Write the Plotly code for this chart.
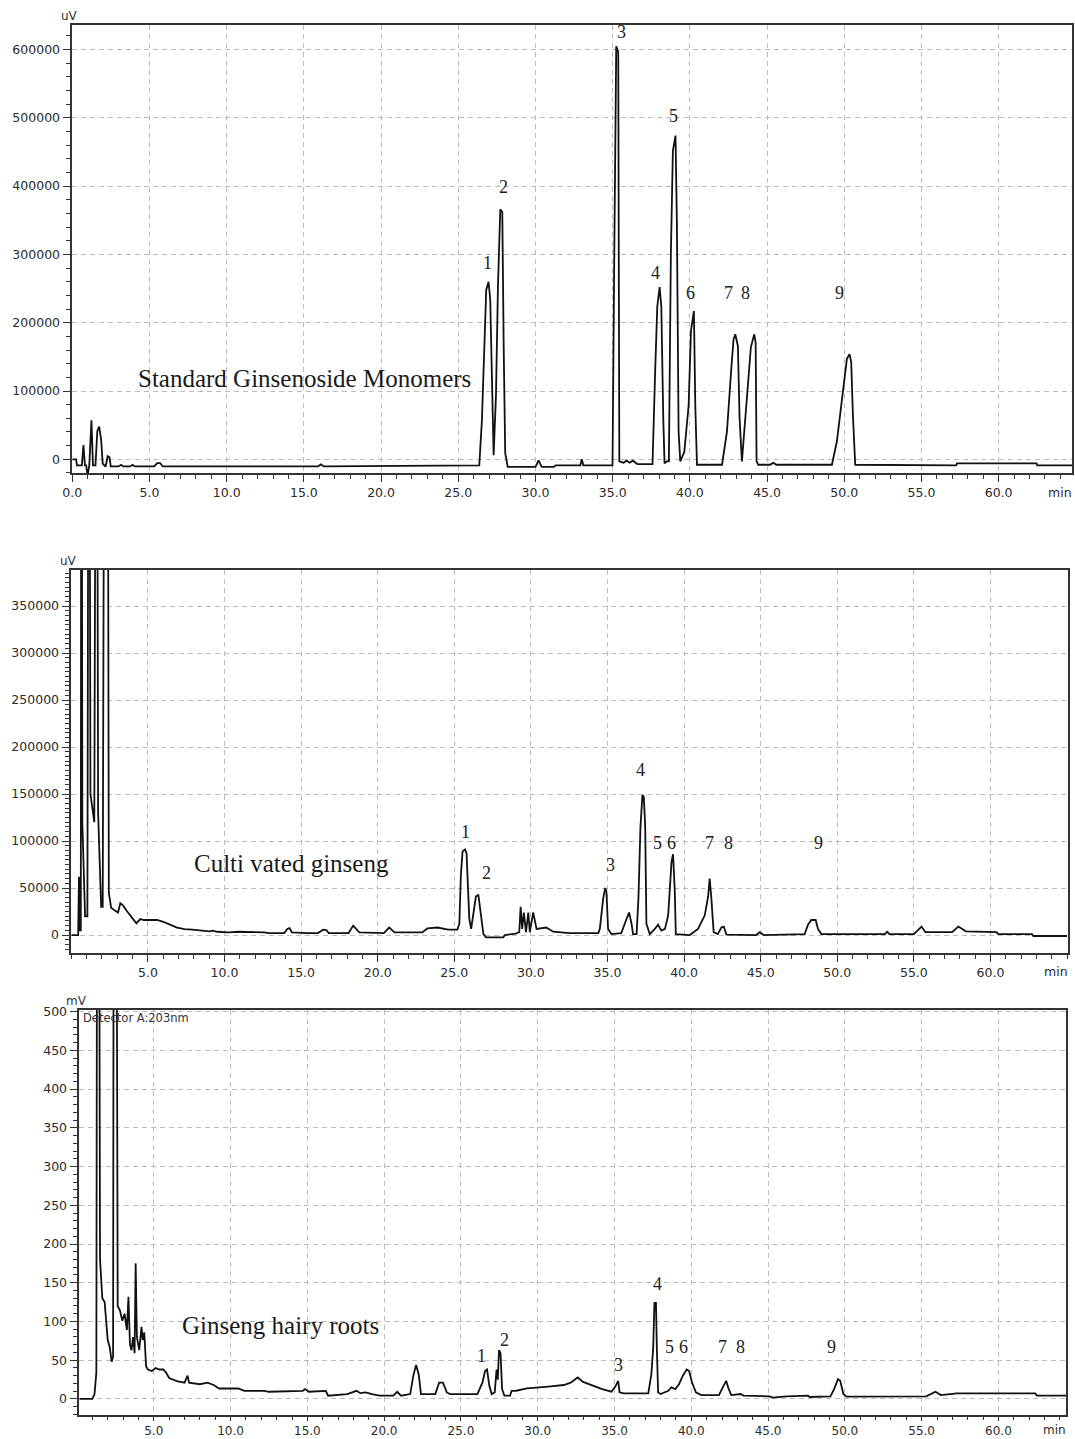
import plotly.graph_objects as go

W, H = 1075, 1439

# ---------------- data ----------------
std_time = [0.0, 0.25, 0.3, 0.62, 0.72, 0.82, 0.9, 0.99, 1.1, 1.24, 1.34, 1.5, 1.62, 1.74, 1.87, 1.97,
            2.16, 2.29, 2.41, 2.49, 3.0, 3.16, 3.3, 3.75, 3.9, 4.05, 5.3, 5.5, 5.7, 5.85, 15.9, 16.1, 16.3,
            26.36, 26.53, 26.68, 26.81, 26.96, 27.07, 27.18, 27.29, 27.44, 27.57, 27.72, 27.85, 27.94, 28.04,
            28.2, 30.0, 30.2, 30.4, 31.2, 31.3, 32.9, 33.0, 33.1, 34.99, 35.1, 35.23, 35.36, 35.43, 35.7,
            35.9, 36.1, 36.3, 36.6, 37.58, 37.76, 37.89, 38.04, 38.15, 38.28, 38.36, 38.51, 38.64, 38.77,
            38.9, 39.07, 39.16, 39.27, 39.38, 39.64, 39.92, 40.07, 40.26, 40.35, 40.46, 42.08, 42.4, 42.68,
            42.83, 42.94, 43.11, 43.22, 43.37, 43.52, 43.76, 43.95, 44.17, 44.26, 44.32, 44.43, 45.2, 45.4,
            45.6, 49.2, 49.52, 49.78, 50.02, 50.17, 50.34, 50.45, 50.56, 50.71, 57.25, 57.3, 62.46, 62.5, 64.8]
std_signal = [0, 0, -9000, -9000, 21000, -9000, -9000, -24000, -9000, 57000, -9000, -9000, 41000, 48000, 28000, -6500,
              -10500, 4500, 3000, -10500, -10500, -8000, -10500, -10500, -8000, -10500, -10500, -5500, -5500, -10500, -10500, -7500, -10500,
              -9000, 57000, 149000, 248000, 260000, 234000, 120000, 6000, 93000, 253000, 366000, 362000, 166000, 9000,
              -11000, -11000, -1500, -11000, -11000, -9000, -9000, 0, -9000, -9000, 292000, 604600, 597000, -3000, -5000,
              -2000, -5000, -2000, -7000, -7000, 135000, 224000, 252000, 224000, 57000, -6000, -3000, -3000, 302000,
              452000, 474000, 343000, 40000, -3000, 11000, 79000, 188000, 217000, 79000, -8000, -8000, 40000, 132000,
              176000, 183000, 166000, 60000, -3000, 40000, 113000, 164000, 183000, 171000, -3000, -8000, -8000, -5000,
              -8000, -8000, 26000, 74000, 122500, 147000, 154000, 142000, 64000, -8000, -9000, -6000, -6000, -9000, -9000]

cult_time = [0.0, 0.45, 0.5, 0.56, 0.62, 0.66, 0.72, 0.9, 1.05, 1.15, 1.25, 1.5, 1.65, 1.75, 1.95, 2.05, 2.2, 2.35,
             2.45, 2.6, 2.85, 3.05, 3.2, 3.4, 3.6, 4.0, 4.25, 4.5, 4.75, 5.6, 6.1, 6.9, 7.4, 7.9, 8.4, 9.0, 9.25,
             9.5, 10.25, 10.9, 12.6, 12.9, 13.9, 14.1, 14.25, 14.4, 15.4, 16.1, 16.45, 16.65, 16.8, 18.1, 18.4,
             18.8, 20.4, 20.75, 21.1, 22.9, 23.25, 23.9, 24.6, 25.2, 25.33, 25.43, 25.54, 25.7, 25.8, 25.9, 25.98,
             26.1, 26.24, 26.41, 26.57, 26.72, 26.9, 27.07, 28.2, 28.3, 29.0, 29.24, 29.33, 29.43, 29.54, 29.68,
             29.83, 29.93, 30.15, 30.37, 31.0, 31.46, 32.5, 34.4, 34.5, 34.72, 34.85, 34.93, 35.04, 35.26, 35.9,
             36.24, 36.41, 36.57, 36.67, 36.9, 37.02, 37.15, 37.28, 37.37, 37.46, 37.54, 37.76, 38.09, 38.3, 38.52,
             38.75, 38.96, 39.07, 39.18, 39.28, 39.39, 39.46, 40.37, 40.91, 41.35, 41.57, 41.67, 41.78, 41.93, 42.2,
             42.43, 42.59, 42.76, 44.7, 44.93, 45.2, 47.87, 48.09, 48.3, 48.59, 48.74, 48.96, 53.1, 53.26, 53.4,
             55.0, 55.5, 55.75, 57.5, 57.9, 58.4, 60.4, 60.5, 62.7, 62.8, 65.0]
cult_signal = [0, 0, 62000, 5000, 5000, 900000, 120000, 20000, 20000, 900000, 150000, 120000, 900000, 130000, 30000, 30000, 900000, 900000,
               45000, 29000, 26000, 24000, 34000, 31000, 26000, 17000, 12400, 17000, 16000, 16000, 13500, 8000, 6400, 5700, 4600, 3900, 4600,
               3500, 2800, 3500, 2800, 2100, 2100, 6400, 7400, 2800, 2100, 2100, 5700, 5300, 2100, 2100, 10000,
               2800, 2100, 8000, 2800, 2800, 7000, 8000, 5700, 5700, 12000, 64000, 89000, 91000, 87000, 51000, 17000,
               6500, 21000, 41000, 43000, 21000, 1000, -2500, -2500, 0, 1500, 3000, 30000, 6500, 24000, 3000,
               24000, 3000, 24000, 6500, 8000, 3600, 2000, 2000, 6500, 39000, 50000, 46000, 6500, 1000, 2000,
               17000, 24000, 12000, 1000, 1000, 39000, 114000, 149000, 147000, 116000, 12000, 1000, 6500, 11000, 4700,
               6500, 21000, 53000, 78000, 86000, 48000, 1000, 0, 6500, 21000, 41000, 60000, 39000, 3000, 1000,
               8000, 9000, 500, 0, 3000, 0, 1000, 11000, 16000, 16000, 6500, 1000, 1000, 3500, 1000,
               1000, 9000, 3000, 3000, 9000, 4000, 3000, 1000, 1000, -1000, -1000]

hairy_time = [0.15, 1.0, 1.14, 1.26, 1.32, 1.42, 1.5, 1.65, 1.8, 2.0, 2.13, 2.26, 2.35, 2.4, 2.55, 2.65, 2.8, 2.95,
              3.1, 3.25, 3.35, 3.45, 3.55, 3.65, 3.75, 3.82, 3.9, 4.05, 4.2, 4.28, 4.38, 4.5, 4.62, 4.87, 5.12, 5.37,
              5.62, 5.8, 6.0, 6.5, 7.0, 7.2, 7.3, 8.0, 8.5, 8.9, 9.25, 10.5, 10.9, 12.2, 12.5, 14.7, 14.85, 15.1,
              16.2, 16.35, 17.6, 18.2, 18.45, 18.8, 19.2, 19.7, 20.6, 20.85, 21.1, 21.7, 21.9, 22.08, 22.25, 22.4,
              23.33, 23.58, 23.83, 24.08, 24.3, 26.07, 26.4, 26.57, 26.7, 26.85, 27.0, 27.2, 27.32, 27.4, 27.48,
              27.58, 27.68, 27.83, 28.2, 28.3, 28.6, 29.3, 30.7, 31.7, 32.15, 32.6, 32.95, 33.6, 34.2, 34.8, 35.05,
              35.24, 35.33, 35.6, 37.2, 37.4, 37.52, 37.6, 37.7, 37.76, 37.84, 38.0, 38.5, 38.7, 38.96, 39.2, 39.45,
              39.7, 39.86, 40.05, 40.3, 40.65, 41.8, 42.1, 42.27, 42.4, 42.6, 43.2, 43.4, 45.1, 45.3, 46.2, 47.6,
              47.7, 49.06, 49.3, 49.55, 49.7, 49.9, 50.1, 55.3, 55.9, 56.25, 57.3, 62.4, 62.5, 64.8]
hairy_signal = [0, 0, 6, 34, 900, 900, 180, 130, 125, 76, 67, 48, 55, 900, 900, 120, 114, 101,
                110, 89, 132, 70, 63, 80, 59, 175, 80, 63, 93, 76, 86, 42, 38, 36, 40, 38,
                38, 34, 27, 23, 21, 30, 21, 19, 21, 18, 13.5, 13.5, 10.5, 10.5, 9.3, 10.5, 12.7, 9.3,
                10.5, 4.2, 6.3, 10.5, 7.5, 8.4, 6.3, 4.2, 4.2, 9.3, 4.2, 6.3, 30, 44, 32, 6.3,
                6.3, 21, 21, 8.4, 6.3, 6.3, 21, 36, 38, 17, 6.3, 8.4, 38, 25, 63,
                59, 12.7, 4.2, 4.2, 10.5, 10.6, 13.6, 16, 18, 21, 27.7, 22, 17, 12.8, 9.4, 16,
                23.4, 8.5, 7.2, 7.2, 32, 66, 124, 124, 64, 8.5, 6.4, 10.6, 15, 12.8, 19, 30,
                38, 36, 21, 8.5, 5, 5, 17, 23.4, 15, 5, 6.4, 4.3, 3.4, 1.7, 3.4, 4.3,
                2.5, 3.4, 12.8, 25.5, 23.4, 6.4, 3, 3.4, 9.4, 5, 7.2, 7.2, 4.3, 4.3]

peak_names = ["1", "2", "3", "4", "5", "6", "7", "8", "9"]
std_label_time = [26.86, 27.9, 35.6, 37.8, 38.97, 40.07, 42.53, 43.63, 49.66]
std_label_y = [287000, 399000, 625600, 273000, 502600, 243600, 243600, 243600, 243600]
cult_label_time = [25.74, 27.1, 35.2, 37.15, 38.24, 39.2, 41.67, 42.87, 48.78]
cult_label_y = [110000, 66500, 74800, 175500, 98200, 98200, 98200, 98200, 98200]
hairy_label_time = [26.34, 27.82, 35.28, 37.82, 38.58, 39.51, 42.0, 43.2, 49.12]
hairy_label_y = [55, 76.7, 44.4, 148, 67, 67, 67, 67, 67]

sample_names = ["Standard Ginsenoside Monomers", "Culti vated ginseng", "Ginseng hairy roots"]
sample_name_time = [15.07, 14.35, 13.28]
sample_name_y = [117600, 76600, 94.7]

time_ticks = [0, 5, 10, 15, 20, 25, 30, 35, 40, 45, 50, 55, 60]
std_y_ticks = [0, 100000, 200000, 300000, 400000, 500000, 600000]
cult_y_ticks = [0, 50000, 100000, 150000, 200000, 250000, 300000, 350000]
hairy_y_ticks = [0, 50, 100, 150, 200, 250, 300, 350, 400, 450, 500]
unit_labels = ["uV", "uV", "mV"]

for a, b in [(std_time, std_signal), (cult_time, cult_signal), (hairy_time, hairy_signal)]:
    assert len(a) == len(b), (len(a), len(b))

# ---------------- layout geometry (screen pixels) ----------------
panels = [
    dict(l=72.3, r=1072, t=25, b=473.3, xr=[0, 64.75], yr=[-20500, 635900], ydt=20000,
         xt=time_ticks, yt=std_y_ticks, xtl=7, xml=4, xfs=12.5, minoff=19),
    dict(l=71.3, r=1068, t=570, b=953, xr=[0, 65.06], yr=[-19100, 388300], ydt=5000,
         xt=time_ticks[1:], yt=cult_y_ticks, xtl=7, xml=4, xfs=12.5, minoff=19),
    dict(l=79.3, r=1066, t=1010, b=1415, xr=[0.15, 64.4], yr=[-20.7, 502], ydt=10,
         xt=time_ticks[1:], yt=hairy_y_ticks, xtl=4, xml=3, xfs=12, minoff=15),
]
series = [(std_time, std_signal), (cult_time, cult_signal), (hairy_time, hairy_signal)]
labels = [(std_label_time, std_label_y), (cult_label_time, cult_label_y), (hairy_label_time, hairy_label_y)]

AX = "#333333"
GRID = "#bcbcbc"
TICKFONT = dict(family="DejaVu Sans", size=12.5, color="#2b2b2b")
SERIF = "Liberation Serif"

fig = go.Figure()
layout = dict(width=W, height=H, margin=dict(l=0, r=0, t=0, b=0, autoexpand=False),
              paper_bgcolor="white", plot_bgcolor="white", showlegend=False)
annotations = []

def fx(x):
    return x / W

def fy(y):
    return 1 - y / H

for i, p in enumerate(panels):
    n = "" if i == 0 else str(i + 1)
    xname, yname = "x" + n, "y" + n
    t, v = series[i]
    fig.add_trace(go.Scatter(x=t, y=v, mode="lines", xaxis=xname, yaxis=yname,
                             line=dict(color="#111111", width=1.8), hoverinfo="skip"))
    layout["xaxis" + n] = dict(
        domain=[fx(p["l"]), fx(p["r"])], range=p["xr"], anchor=yname, automargin=False,
        tickmode="array", tickvals=p["xt"], ticktext=[f"{x:.1f}" for x in p["xt"]],
        ticks="outside", ticklen=p["xtl"], tickwidth=1.2, tickcolor=AX,
        minor=dict(dtick=1, tick0=0, ticks="outside", ticklen=p["xml"], tickcolor=AX, tickwidth=1.2),
        showline=True, mirror=True, linecolor=AX, linewidth=1.5,
        showgrid=True, gridcolor=GRID, griddash="5px,4px", gridwidth=1,
        zeroline=False, tickfont=dict(TICKFONT, size=p["xfs"]), fixedrange=True,
    )
    layout["yaxis" + n] = dict(
        domain=[fy(p["b"]), fy(p["t"])], range=p["yr"], anchor=xname, automargin=False,
        tickmode="array", tickvals=p["yt"], ticktext=[str(y) for y in p["yt"]],
        ticks="outside", ticklen=8, tickwidth=1.2, tickcolor=AX,
        minor=dict(dtick=p["ydt"], tick0=0, ticks="outside", ticklen=5, tickcolor=AX, tickwidth=1.2),
        showline=True, mirror=True, linecolor=AX, linewidth=1.5,
        showgrid=True, gridcolor=GRID, griddash="5px,4px", gridwidth=1,
        zeroline=False, tickfont=TICKFONT, fixedrange=True,
    )
    # peak number labels
    lt, ly = labels[i]
    for name, xx, yy in zip(peak_names, lt, ly):
        annotations.append(dict(x=xx, y=yy, xref=xname, yref=yname, text=name, showarrow=False,
                                font=dict(family=SERIF, size=18, color="#222222"),
                                xanchor="center", yanchor="middle"))
    # sample name
    annotations.append(dict(x=sample_name_time[i], y=sample_name_y[i], xref=xname, yref=yname,
                            text=sample_names[i], showarrow=False,
                            font=dict(family=SERIF, size=25, color="#1a1a1a"),
                            xanchor="center", yanchor="middle"))
    # unit label above the y axis
    annotations.append(dict(x=fx(p["l"] - 3), y=fy(p["t"] - 9), xref="paper", yref="paper",
                            text=unit_labels[i], showarrow=False,
                            font=dict(family="DejaVu Sans", size=12, color="#333333"),
                            xanchor="center", yanchor="middle"))
    # "min" at right end of time axis
    annotations.append(dict(x=fx(p["r"] - 12), y=fy(p["b"] + p["minoff"]), xref="paper", yref="paper",
                            text="min", showarrow=False, font=dict(TICKFONT, size=p["xfs"]),
                            xanchor="center", yanchor="middle"))

annotations.append(dict(x=fx(81), y=fy(1018), xref="paper", yref="paper", text="Detector A:203nm",
                        showarrow=False, font=dict(family="DejaVu Sans", size=11.5, color="#333333"),
                        xanchor="left", yanchor="middle"))

layout["annotations"] = annotations
fig.update_layout(**layout)
fig.write_html("out.html", config={"displayModeBar": False},
               post_script="document.body.style.margin='0px';document.body.style.overflow='hidden';")
